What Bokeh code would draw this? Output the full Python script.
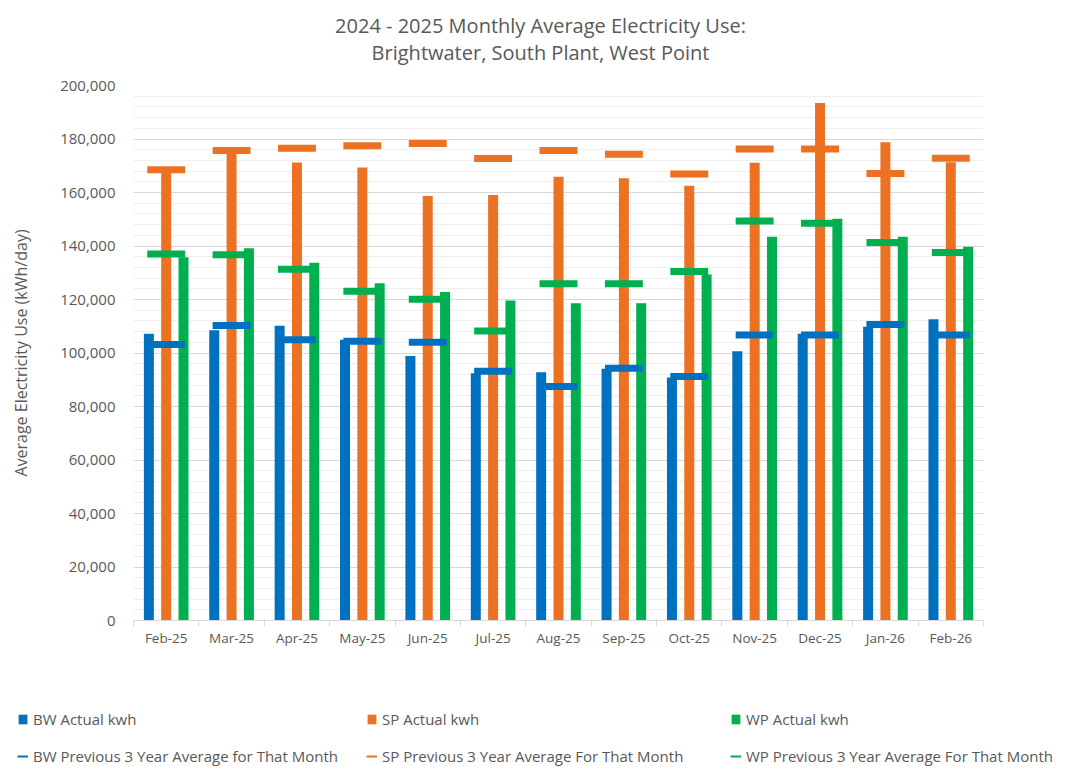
from bokeh.plotting import figure
from bokeh.models import (Range1d, FixedTicker, NumeralTickFormatter, Legend, LegendItem,
                          Label, ColumnDataSource)
from bokeh.transform import dodge
from bokeh.embed import file_html
from bokeh.resources import INLINE

months = ["Feb-25", "Mar-25", "Apr-25", "May-25", "Jun-25", "Jul-25", "Aug-25",
          "Sep-25", "Oct-25", "Nov-25", "Dec-25", "Jan-26", "Feb-26"]
bw_actual = [107200, 108500, 110200, 105000, 98900, 92400, 92800, 94100, 90800, 100700, 107200, 109800, 112600]
bw_avg = [103200, 110300, 105000, 104400, 104000, 93200, 87500, 94300, 91200, 106700, 106700, 110700, 106700]
sp_actual = [167500, 175000, 171200, 169300, 158700, 159100, 165900, 165300, 162500, 171100, 193500, 178800, 171300]
sp_avg = [168500, 175700, 176500, 177500, 178300, 172700, 175700, 174300, 166900, 176300, 176300, 167100, 172800]
wp_actual = [135800, 139200, 133700, 126100, 122800, 119600, 118600, 118600, 129300, 143500, 150200, 143500, 139700]
wp_avg = [137000, 136700, 131300, 123100, 120100, 108200, 125900, 125900, 130500, 149300, 148500, 141300, 137600]

title_lines = ["2024 - 2025 Monthly Average Electricity Use:", "Brightwater, South Plant, West Point"]
y_title = "Average Electricity Use (kWh/day)"
series_names = ["BW Actual kwh", "SP Actual kwh", "WP Actual kwh",
                "BW Previous 3 Year Average for That Month",
                "SP Previous 3 Year Average For That Month",
                "WP Previous 3 Year Average For That Month"]

BLUE = "#0070C0"
ORANGE = "#EC7122"
GREEN = "#00B050"
TXT = "#595959"
FONT = "Open Sans"
W = 1072


def blank(h):
    f = figure(width=W, height=h, output_backend="svg", toolbar_location=None,
               x_range=Range1d(0, W), y_range=Range1d(0, h),
               min_border=0, min_border_left=0, min_border_right=0,
               min_border_top=0, min_border_bottom=0)
    f.axis.visible = False
    f.grid.visible = False
    f.outline_line_color = None
    f.title.visible = False
    return f


# ---- title strip ----
TH = 75
pt = blank(TH)
for t, yy in zip(title_lines, [TH - 25, TH - 52]):
    pt.add_layout(Label(x=540, y=yy, text=t, text_align="center", text_baseline="middle",
                        text_font=FONT, text_font_size="20px", text_color=TXT))

# ---- main chart ----
n = len(months)
centers = [i + 0.5 for i in range(n)]

p = figure(width=W, height=615, output_backend="svg", toolbar_location=None,
           x_range=Range1d(0, n), y_range=Range1d(0, 200000),
           min_border_left=133, min_border_right=W - 983, min_border_top=10, min_border_bottom=70,
           background_fill_color="white", border_fill_color="white")
p.outline_line_color = None
p.title.visible = False

bar_w = 0.153
off = 0.265
src = ColumnDataSource(dict(x=centers, bw=bw_actual, sp=sp_actual, wp=wp_actual,
                            bwa=bw_avg, spa=sp_avg, wpa=wp_avg))
p.vbar(x=dodge("x", -off), top="bw", width=bar_w, source=src, fill_color=BLUE, line_color=None)
p.vbar(x="x", top="sp", width=bar_w, source=src, fill_color=ORANGE, line_color=None)
p.vbar(x=dodge("x", off), top="wp", width=bar_w, source=src, fill_color=GREEN, line_color=None)

avg_w = 0.58
for col, c in (("bwa", BLUE), ("spa", ORANGE), ("wpa", GREEN)):
    p.rect(x="x", y=col, width=avg_w, height=7, height_units="screen", source=src,
           fill_color=c, line_color=None)

p.xaxis.ticker = FixedTicker(ticks=centers, minor_ticks=list(range(n + 1)))
p.xaxis.major_label_overrides = {c: m for c, m in zip(centers, months)}
p.xaxis.major_tick_out = 0
p.xaxis.major_tick_in = 0
p.xaxis.minor_tick_out = 6
p.xaxis.minor_tick_in = 0
p.xaxis.minor_tick_line_color = "#d9d9d9"
p.xaxis.axis_line_color = "#d9d9d9"
p.xaxis.major_label_text_font = FONT
p.xaxis.major_label_text_font_size = "13.5px"
p.xaxis.major_label_text_color = TXT
p.xaxis.major_label_standoff = 2
p.xgrid.visible = False

p.yaxis.ticker = FixedTicker(ticks=list(range(0, 200001, 20000)),
                             minor_ticks=list(range(0, 200001, 4000)))
p.yaxis.formatter = NumeralTickFormatter(format="0,0")
p.yaxis.axis_line_color = None
p.yaxis.major_tick_line_color = None
p.yaxis.minor_tick_line_color = None
p.yaxis.major_label_standoff = 12
p.yaxis.major_label_text_font = FONT
p.yaxis.major_label_text_font_size = "15px"
p.yaxis.major_label_text_color = TXT
p.yaxis.axis_label = y_title
p.yaxis.axis_label_text_font = FONT
p.yaxis.axis_label_text_font_size = "16px"
p.yaxis.axis_label_text_font_style = "normal"
p.yaxis.axis_label_text_color = TXT
p.yaxis.axis_label_standoff = 25
p.ygrid.grid_line_color = "#d9d9d9"
p.ygrid.minor_grid_line_color = "#efefef"

# ---- legend strip ----
LH = 86
pl = blank(LH)
dummy = ColumnDataSource(dict(x=[-1000, -999], y=[-1000, -999], t=[-1000, -999]))
legend_cols = [(17, BLUE, series_names[0], series_names[3]),
               (366, ORANGE, series_names[1], series_names[4]),
               (730, GREEN, series_names[2], series_names[5])]
for x0, c, lab_bar, lab_avg in legend_cols:
    rb = pl.vbar(x="x", top="t", width=1, source=dummy, fill_color=c, line_color=None)
    rl = pl.line("x", "y", source=dummy, line_color=c, line_width=2)
    lg = Legend(items=[LegendItem(label=lab_bar, renderers=[rb]),
                       LegendItem(label=lab_avg, renderers=[rl])],
                location=(x0, 10), orientation="vertical",
                glyph_width=11, glyph_height=12, label_height=12, spacing=17,
                padding=0, margin=0, label_standoff=5,
                label_text_font=FONT, label_text_font_size="15px", label_text_color=TXT,
                label_text_baseline="middle",
                background_fill_alpha=0, border_line_color=None)
    pl.add_layout(lg, "center")

open("out.html", "w").write(file_html([pt, p, pl], INLINE))
